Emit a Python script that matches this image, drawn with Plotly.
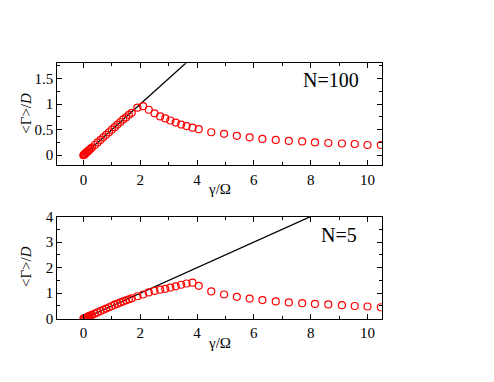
import plotly.graph_objects as go

# gamma/Omega values for the red points (shared by both panels)
gx = [0.0, 0.01, 0.03, 0.05, 0.08, 0.12, 0.16, 0.2, 0.25, 0.3, 0.4, 0.5, 0.6, 0.7,
      0.8, 0.9, 1.0, 1.1, 1.2, 1.3, 1.4, 1.5, 1.6, 1.7, 1.9, 2.1, 2.3, 2.5, 2.7,
      2.88, 3.06, 3.25, 3.44, 3.63, 3.84, 4.06, 4.5, 4.95, 5.4, 5.85, 6.3, 6.77,
      7.23, 7.7, 8.15, 8.62, 9.1, 9.55, 10.0, 10.47]

# N=100
g100 = [0.0, 0.005, 0.015, 0.025, 0.04, 0.06, 0.08, 0.1, 0.125, 0.15, 0.2, 0.25,
        0.3, 0.35, 0.4, 0.45, 0.5, 0.55, 0.6, 0.65, 0.7, 0.74, 0.79, 0.83, 0.93,
        0.96, 0.89, 0.82, 0.76, 0.72, 0.68, 0.64, 0.6, 0.57, 0.54, 0.51, 0.45,
        0.42, 0.38, 0.35, 0.32, 0.3, 0.28, 0.27, 0.25, 0.24, 0.23, 0.22, 0.2, 0.2]

# N=5
g5 = [0.0, 0.005, 0.015, 0.025, 0.04, 0.06, 0.08, 0.1, 0.125, 0.15, 0.2, 0.25,
      0.3, 0.35, 0.4, 0.45, 0.5, 0.55, 0.59, 0.64, 0.68, 0.72, 0.76, 0.8, 0.88,
      0.95, 1.03, 1.09, 1.14, 1.17, 1.22, 1.27, 1.33, 1.38, 1.41, 1.29, 1.07,
      0.95, 0.86, 0.79, 0.73, 0.68, 0.64, 0.61, 0.58, 0.56, 0.53, 0.5, 0.48, 0.45]

# black reference line  <Gamma>/D = gamma/(2 Omega)
line_x = [0, 10.5]
line_y = [0, 5.25]

font = "Liberation Serif"
W, H = 494, 382
OFF = 8  # page body margin


def px_x(p):
    return (p - OFF) / W


def px_y(p):
    return 1 - (p - OFF) / H


fig = go.Figure()

for i, yy in enumerate([g100, g5]):
    xa = "x" if i == 0 else "x2"
    ya = "y" if i == 0 else "y2"
    fig.add_trace(go.Scatter(x=line_x, y=line_y, mode="lines", xaxis=xa, yaxis=ya,
                             line=dict(color="black", width=1.3), showlegend=False))
    fig.add_trace(go.Scatter(x=gx, y=yy, mode="markers", xaxis=xa, yaxis=ya,
                             marker=dict(symbol="circle-open", color="red", size=7,
                                         line=dict(width=1.2, color="red")),
                             showlegend=False))

ax = dict(showline=True, linecolor="black", linewidth=1.2, mirror="allticks",
          ticks="inside", ticklen=5, tickcolor="black", tickwidth=1,
          showgrid=False, zeroline=False,
          tickfont=dict(family=font, size=15, color="black"))

xdom = [px_x(57.3), px_x(381.7)]
xminor = dict(ticks="inside", ticklen=3, dtick=1, tick0=0, tickcolor="black")
fig.update_layout(
    width=W, height=H, margin=dict(l=0, r=0, t=0, b=0),
    plot_bgcolor="white", paper_bgcolor="white",
    xaxis=dict(ax, domain=xdom, anchor="y", range=[-0.92, 10.5],
               tickvals=[0, 2, 4, 6, 8, 10], minor=xminor),
    yaxis=dict(ax, domain=[px_y(164), px_y(57.3)], anchor="x", range=[-0.2, 1.8],
               tickvals=[0, 0.5, 1, 1.5],
               minor=dict(ticks="inside", ticklen=3, dtick=0.25, tick0=0, tickcolor="black")),
    xaxis2=dict(ax, domain=xdom, anchor="y2", range=[-0.92, 10.5],
                tickvals=[0, 2, 4, 6, 8, 10], minor=xminor),
    yaxis2=dict(ax, domain=[px_y(324), px_y(217.3)], anchor="x2", range=[0, 4],
                tickvals=[0, 1, 2, 3, 4],
                minor=dict(ticks="inside", ticklen=3, dtick=0.5, tick0=0, tickcolor="black")),
)

txt_opts = dict(xref="paper", yref="paper", showarrow=False,
                xanchor="center", yanchor="middle")

for txt, xc, yc in [("N=100", 331, 75), ("N=5", 339, 237)]:
    fig.add_annotation(text=txt, x=px_x(xc), y=px_y(yc),
                       font=dict(family=font, size=20, color="black"), **txt_opts)

for yc in [189, 349]:
    fig.add_annotation(text="γ/Ω", x=px_x(219), y=px_y(yc),
                       font=dict(family=font, size=15, color="black"), **txt_opts)
for yc in [110, 270]:
    fig.add_annotation(text="&lt;Γ&gt;/<i>D</i>", x=px_x(26), y=px_y(yc),
                       textangle=-90, font=dict(family=font, size=15, color="black"),
                       **txt_opts)

fig.write_html("out.html")
